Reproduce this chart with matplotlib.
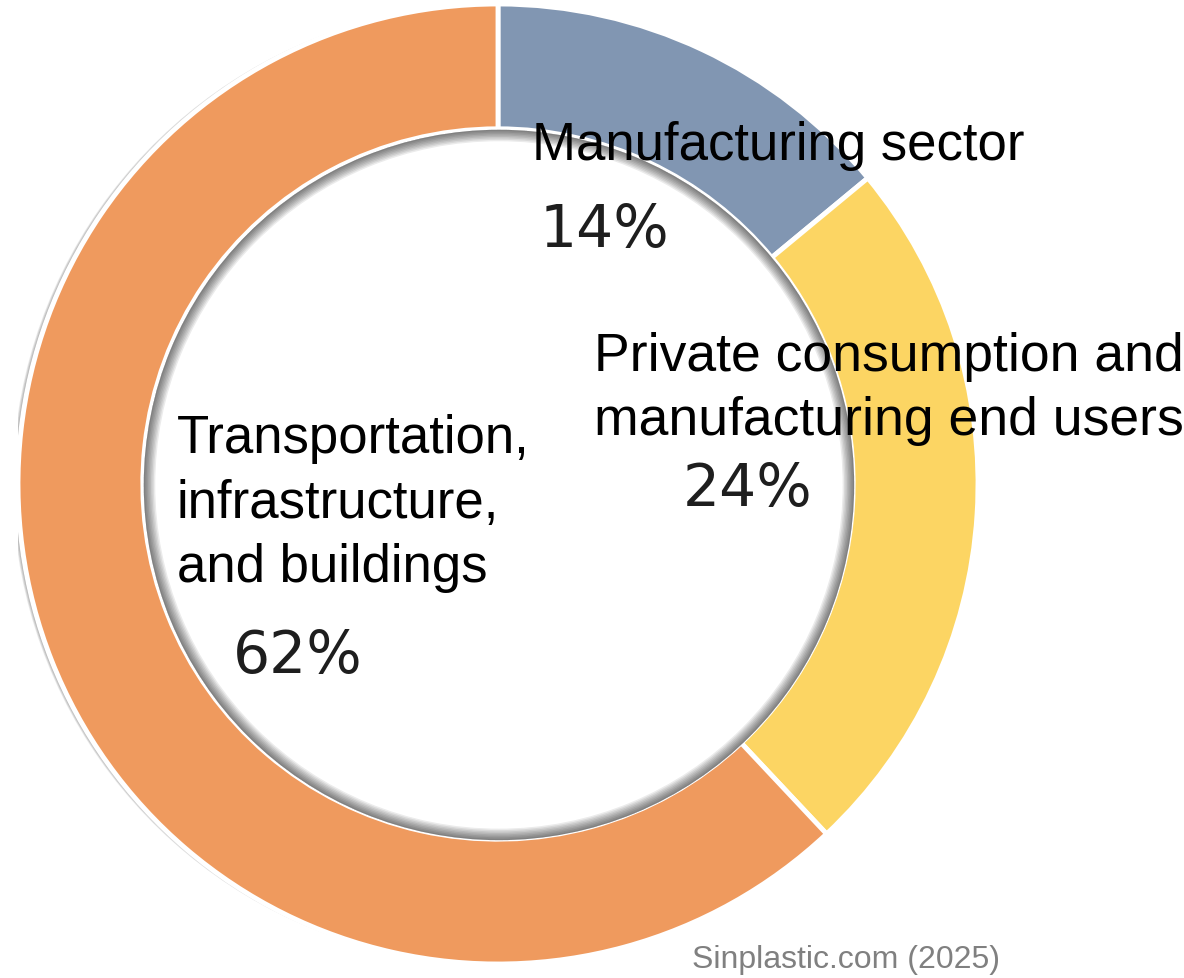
import matplotlib
matplotlib.use("Agg")
import matplotlib.pyplot as plt
from matplotlib.patches import Wedge
import numpy as np

categories = ["Manufacturing sector",
              "Private consumption and\nmanufacturing end users",
              "Transportation,\ninfrastructure,\nand buildings"]
shares = [14, 24, 62]
pct_labels = ["14%", "24%", "62%"]
colors = ["#8196B2", "#FCD563", "#EF9A5E"]

W, H = 1184, 979
fig = plt.figure(figsize=(W / 100, H / 100), dpi=100)
cx, cy, R = 498, 485, 480
ax = fig.add_axes([(cx - R) / W, (H - cy - R) / H, 2 * R / W, 2 * R / H])

r_in = 0.74
width = 1 - r_in

wedges, _ = ax.pie(shares, colors=colors, startangle=90, counterclock=False,
                   radius=1.0, wedgeprops=dict(width=width, edgecolor="white",
                                               linewidth=3.5))
for w in wedges:
    w.set_zorder(2)

ax.set_xlim(-1, 1)
ax.set_ylim(-1, 1)
ax.set_aspect("equal")
ax.axis("off")

# soft shadow on the outer left edge
for k in range(5):
    ax.add_patch(Wedge((-0.005 - 0.0015 * k, 0.0), 1.0, 110, 250, width=0.03,
                       facecolor="black", alpha=0.08, linewidth=0, zorder=1))

# inner shadow cast into the hole
for k in range(8):
    ax.add_patch(Wedge((0.002, -0.002), r_in, 0, 360, width=0.003 * (k + 1),
                       facecolor="black", alpha=0.08, linewidth=0, zorder=3))

label_font = ["Liberation Sans", "DejaVu Sans"]
ax.text(0.071, 0.677, categories[0], fontsize=38, family=label_font,
        ha="left", va="baseline", color="black", zorder=5)
ax.text(0.200, 0.104, categories[1], fontsize=38.5, family=label_font,
        ha="left", va="baseline", color="black", linespacing=1.36, zorder=5)
ax.text(-0.669, -0.202, categories[2], fontsize=38, family=label_font,
        ha="left", va="baseline", color="black", linespacing=1.37, zorder=5)

pct_pos = [(0.221, 0.531), (0.521, -0.010), (-0.417, -0.358)]
for (x, y), t in zip(pct_pos, pct_labels):
    ax.text(x, y, t, fontsize=42, family="DejaVu Sans", ha="center",
            va="center", color="#1e1e1e", zorder=5)

fig.text(1000 / W, 1 - 968 / H, "Sinplastic.com (2025)", fontsize=23,
         family=label_font, ha="right", va="baseline", color="#808080")

fig.savefig("out.png", dpi=100, facecolor="white")
